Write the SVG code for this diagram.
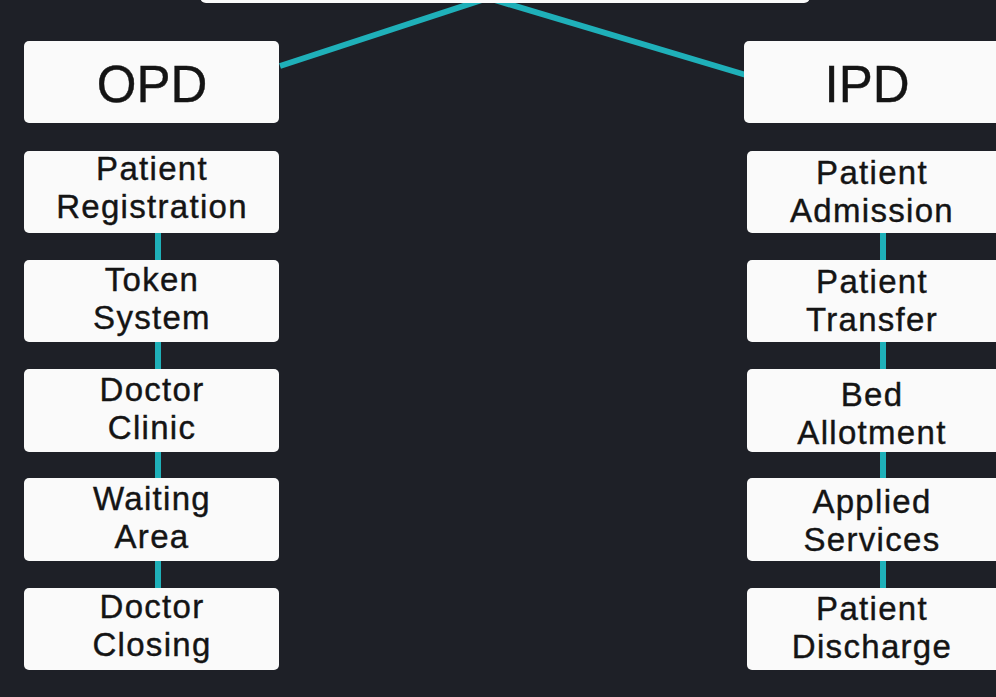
<svg xmlns="http://www.w3.org/2000/svg" width="996" height="697" viewBox="0 0 996 697">
<style>
.bg{fill:#1e2027}
.box{fill:#fafafa}
.conn{stroke:#1fb0b9;stroke-width:6;fill:none;stroke-linecap:butt}
.t{font-family:"Liberation Sans",Arial,sans-serif;fill:#141414;text-anchor:middle;stroke:#141414;stroke-width:0.4}
.big{font-size:51px}
.sm{font-size:33px;letter-spacing:1.3px}
</style>
<rect class="bg" x="0" y="0" width="996" height="697"/>
<g id="connectors">
<line class="conn" x1="488" y1="-2" x2="280" y2="66"/>
<line class="conn" x1="488" y1="-2" x2="746" y2="75"/>
<line class="conn" x1="158" y1="230" x2="158" y2="590"/>
<line class="conn" x1="883" y1="230" x2="883" y2="590"/>
</g>
<g id="top"><rect class="box" x="200" y="-40" width="610" height="43" rx="6"/></g>
<g id="opd"><rect class="box" x="24" y="41" width="255" height="82" rx="5"/><text class="t big" x="152" y="102">OPD</text></g>
<g id="ipd"><rect class="box" x="744" y="41" width="260" height="82" rx="5"/><text class="t big" x="867" y="102">IPD</text></g>
<g id="patient-registration"><rect class="box" x="24" y="151" width="255" height="82" rx="5"/><text class="t sm" x="152" y="180">Patient</text><text class="t sm" x="152" y="218">Registration</text></g>
<g id="token-system"><rect class="box" x="24" y="260" width="255" height="82" rx="5"/><text class="t sm" x="152" y="291">Token</text><text class="t sm" x="152" y="329">System</text></g>
<g id="doctor-clinic"><rect class="box" x="24" y="369" width="255" height="83" rx="5"/><text class="t sm" x="152" y="401">Doctor</text><text class="t sm" x="152" y="439">Clinic</text></g>
<g id="waiting-area"><rect class="box" x="24" y="478" width="255" height="83" rx="5"/><text class="t sm" x="152" y="510">Waiting</text><text class="t sm" x="152" y="548">Area</text></g>
<g id="doctor-closing"><rect class="box" x="24" y="588" width="255" height="82" rx="5"/><text class="t sm" x="152" y="618">Doctor</text><text class="t sm" x="152" y="656">Closing</text></g>
<g id="patient-admission"><rect class="box" x="747" y="151" width="260" height="82" rx="5"/><text class="t sm" x="872" y="184">Patient</text><text class="t sm" x="872" y="222">Admission</text></g>
<g id="patient-transfer"><rect class="box" x="747" y="260" width="260" height="82" rx="5"/><text class="t sm" x="872" y="293">Patient</text><text class="t sm" x="872" y="331">Transfer</text></g>
<g id="bed-allotment"><rect class="box" x="747" y="369" width="260" height="83" rx="5"/><text class="t sm" x="872" y="406">Bed</text><text class="t sm" x="872" y="444">Allotment</text></g>
<g id="applied-services"><rect class="box" x="747" y="478" width="260" height="83" rx="5"/><text class="t sm" x="872" y="513">Applied</text><text class="t sm" x="872" y="551">Services</text></g>
<g id="patient-discharge"><rect class="box" x="747" y="588" width="260" height="82" rx="5"/><text class="t sm" x="872" y="620">Patient</text><text class="t sm" x="872" y="658">Discharge</text></g>
</svg>
